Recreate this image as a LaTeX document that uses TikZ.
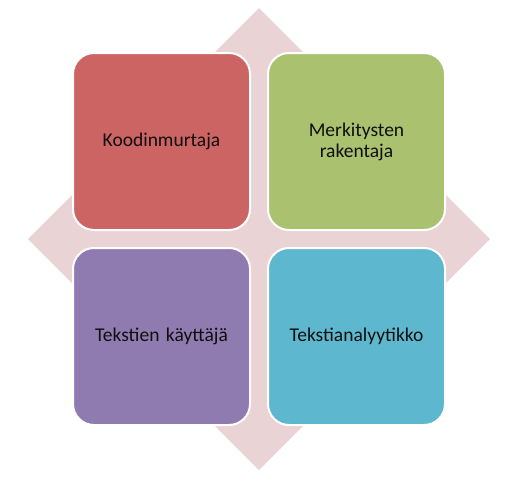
\documentclass[tikz,border=0pt]{standalone}
\usepackage{fontspec}
\setmainfont{Carlito}
\usetikzlibrary{positioning}
\definecolor{rosa}{RGB}{233,211,213}
\definecolor{punainen}{RGB}{203,100,98}
\definecolor{vihrea}{RGB}{170,194,112}
\definecolor{violetti}{RGB}{144,123,176}
\definecolor{syaani}{RGB}{93,184,207}
\definecolor{teksti}{RGB}{15,15,15}
\tikzset{
  ruutu/.style={draw=white, line width=2pt, rounded corners=21pt,
    minimum width=177pt, minimum height=177pt, inner sep=0pt,
    text width=160pt, align=center, text=teksti, font=\fontsize{19.5}{21}\selectfont}
}
\begin{document}
\begin{tikzpicture}[x=1pt, y=-1pt, node distance=16pt]
\useasboundingbox (0,0) rectangle (512,480);
% taustan vinoneliö
\fill[rosa] (259,8) -- (490,239) -- (259,470) -- (28,239) -- cycle;

\node[ruutu, fill=punainen] (Koodinmurtaja) at (161.5,141.5) {Koodinmurtaja};
\node[ruutu, fill=vihrea, right=of Koodinmurtaja] (Rakentaja) {Merkitysten\\rakentaja};
\node[ruutu, fill=violetti, below=of Koodinmurtaja] (Kayttaja) {Tekstien käyttäjä};
\node[ruutu, fill=syaani, below=of Rakentaja] (Analyytikko) {Tekstianalyytikko};

\end{tikzpicture}
\end{document}
